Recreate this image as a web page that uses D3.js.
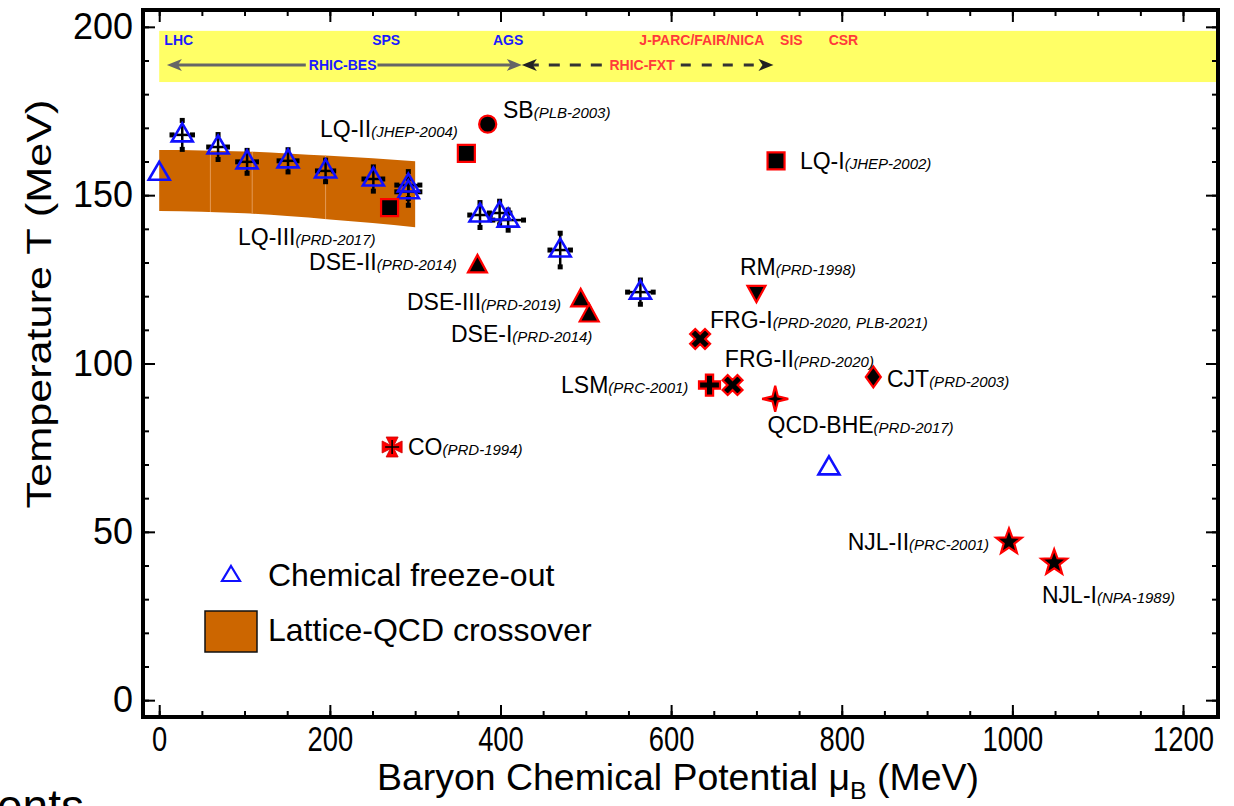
<!DOCTYPE html>
<html><head><meta charset="utf-8">
<script src="https://cdn.jsdelivr.net/npm/d3@7"></script>
<style>
body{margin:0;background:#fff;}
svg{display:block;font-family:"Liberation Sans",Arial,Helvetica,sans-serif;}
</style>
</head><body>
<svg id="c" width="1234" height="806"></svg>
<script>
// ---------------- data ----------------
const xTickValues = [0, 200, 400, 600, 800, 1000, 1200];
const xTickLabels = ["0", "200", "400", "600", "800", "1000", "1200"];
const yTickValues = [0, 50, 100, 150, 200];
const yTickLabels = ["0", "50", "100", "150", "200"];

// chemical freeze-out (muB, T, errors)
const freezeMu   = [0, 27, 69, 103, 151, 195, 251, 292, 292, 376, 399, 409, 470, 564, 785];
const freezeT    = [156.5, 167.9, 164.3, 159.9, 160.2, 157.2, 154.8, 153.0, 151.0, 144.1, 144.7, 142.6, 133.7, 121.2, 69.0];
const freezeErrT = [0, 4.3, 3.7, 3.4, 3.3, 3.2, 3.6, 4.0, 4.0, 3.7, 3.5, 3.0, 5.0, 3.6, 0];
const freezeErrMu= [0, 12, 11, 11, 10.5, 9.5, 11, 13.5, 13.5, 12, 12, 18, 12, 15, 0];

// lattice-QCD crossover band
const latticeMu    = [0, 50, 100, 150, 200, 250, 300];
const latticeUpper = [163.4, 163.3, 163.0, 162.4, 161.7, 161.0, 160.1];
const latticeLower = [145.3, 145.1, 144.6, 143.8, 142.8, 141.7, 140.5];
const latticeSeams = [60, 109, 195];

// model predictions of the critical end point
const modelNames = ["LQ-II", "SB", "LQ-I", "LQ-III", "DSE-II", "DSE-III", "DSE-I", "RM", "FRG-I", "FRG-II", "LSM", "CJT", "QCD-BHE", "CO", "NJL-II", "NJL-I"];
const modelRefs  = ["(JHEP-2004)", "(PLB-2003)", "(JHEP-2002)", "(PRD-2017)", "(PRD-2014)", "(PRD-2019)", "(PRD-2014)", "(PRD-1998)", "(PRD-2020, PLB-2021)", "(PRD-2020)", "(PRC-2001)", "(PRD-2003)", "(PRD-2017)", "(PRD-1994)", "(PRC-2001)", "(NPA-1989)"];
const modelMu    = [360, 385, 723, 270, 373, 494, 504, 700, 634, 672, 645, 837, 722, 273, 996, 1049];
const modelT     = [162.4, 171.1, 160.2, 146.3, 129.3, 119.2, 114.7, 120.7, 107.3, 93.6, 93.6, 96.0, 89.5, 75.2, 47.0, 40.8];
const modelShape = ["square", "circle", "square", "square", "triUp", "triUp", "triUp", "triDown", "xmark", "xmark", "plus", "diamond", "star4", "pattee", "star5", "star5"];
// label anchors (data coordinates, text start)
const labelMu    = [188.5, 403, 751, 92.3, 175.6, 290.4, 342, 680.7, 645.6, 663, 471, 853, 713, 291.6, 807, 1034.7];
const labelT     = [167.3, 172.9, 157.8, 135.2, 127.8, 115.9, 106.4, 126.3, 110.5, 98.96, 91.2, 93.0, 79.4, 72.8, 44.6, 28.9];

// facilities band
const facNames  = ["LHC", "SPS", "AGS", "J-PARC/FAIR/NICA", "SIS", "CSR"];
const facMu     = [6, 266, 409, 636, 741, 802];
const facAnchor = ["start", "middle", "middle", "middle", "middle", "middle"];
const facColor  = ["blue", "blue", "blue", "red", "red", "red"];
const bandT = [183.6, 198.8];
const bandMu = [0, 1260];
const besRange = [9, 425];
const fxtRange = [425, 720];
const besLabelMu = 215, fxtLabelMu = 566;

// ---------------- layout ----------------
const svg = d3.select("#c");
const x = d3.scaleLinear().domain([-19, 1241]).range([143, 1218]);
const y = d3.scaleLinear().domain([-5, 205]).range([717, 10]);
const X0 = x.range()[0], X1 = x.range()[1], Y0 = y.range()[0], Y1 = y.range()[1];
const BLUE = "#1010ff", RED = "#ff0000", FACRED = "#ff3a3a", FACBLUE = "#1a1aff";

svg.append("clipPath").attr("id", "clip").append("rect")
  .attr("x", X0).attr("y", Y1).attr("width", X1 - X0).attr("height", Y0 - Y1);
const plot = svg.append("g").attr("clip-path", "url(#clip)");

// yellow facilities band
plot.append("rect")
  .attr("x", x(bandMu[0])).attr("y", y(bandT[1]))
  .attr("width", x(bandMu[1]) - x(bandMu[0])).attr("height", y(bandT[0]) - y(bandT[1]))
  .attr("fill", "#ffff66");
const facY = y(194.6), arrY = y(188.7);
plot.selectAll("text.fac").data(facNames).join("text")
  .attr("x", (d, i) => x(facMu[i])).attr("y", facY)
  .attr("text-anchor", (d, i) => facAnchor[i])
  .attr("font-size", 14).attr("font-weight", "bold")
  .attr("fill", (d, i) => facColor[i] === "blue" ? FACBLUE : FACRED)
  .text(d => d);

function arrowHead(xTip, yy, dir, color) {
  const L = 15, H = 6;
  plot.append("path")
    .attr("d", `M${xTip},${yy} L${xTip - dir * L},${yy - H} L${xTip - dir * (L - 4)},${yy} L${xTip - dir * L},${yy + H} Z`)
    .attr("fill", color);
}
// RHIC-BES arrow
const besText = plot.append("text").attr("x", x(besLabelMu)).attr("y", arrY + 5)
  .attr("text-anchor", "middle").attr("font-size", 14).attr("font-weight", "bold")
  .attr("fill", FACBLUE).text("RHIC-BES");
const besW = besText.node().getComputedTextLength();
plot.append("line").attr("x1", x(besRange[0]) + 8).attr("x2", x(besLabelMu) - besW / 2 - 3)
  .attr("y1", arrY).attr("y2", arrY).attr("stroke", "#666").attr("stroke-width", 3);
plot.append("line").attr("x1", x(besLabelMu) + besW / 2 + 1).attr("x2", x(besRange[1]) - 8)
  .attr("y1", arrY).attr("y2", arrY).attr("stroke", "#666").attr("stroke-width", 3);
arrowHead(x(besRange[0]), arrY, -1, "#666");
arrowHead(x(besRange[1]), arrY, 1, "#666");
// RHIC-FXT arrow
const fxtText = plot.append("text").attr("x", x(fxtLabelMu)).attr("y", arrY + 5)
  .attr("text-anchor", "middle").attr("font-size", 14).attr("font-weight", "bold")
  .attr("fill", FACRED).text("RHIC-FXT");
const fxtW = fxtText.node().getComputedTextLength();
plot.append("line").attr("x1", x(fxtRange[0]) + 6).attr("x2", x(fxtLabelMu) - fxtW / 2 - 1)
  .attr("y1", arrY).attr("y2", arrY).attr("stroke", "#333").attr("stroke-width", 3)
  .attr("stroke-dasharray", "11,10");
plot.append("line").attr("x1", x(fxtLabelMu) + fxtW / 2 + 6).attr("x2", x(fxtRange[1]) - 10)
  .attr("y1", arrY).attr("y2", arrY).attr("stroke", "#333").attr("stroke-width", 3)
  .attr("stroke-dasharray", "10,11");
arrowHead(x(fxtRange[0]), arrY, -1, "#222");
arrowHead(x(fxtRange[1]), arrY, 1, "#222");

// lattice band
const area = d3.area().x((d, i) => x(latticeMu[i])).y0((d, i) => y(latticeLower[i])).y1((d, i) => y(latticeUpper[i])).curve(d3.curveMonotoneX);
plot.append("path").datum(latticeMu).attr("d", area).attr("fill", "#cc6600");
const upI = d3.scaleLinear().domain(latticeMu).range(latticeUpper);
const loI = d3.scaleLinear().domain(latticeMu).range(latticeLower);
plot.selectAll("line.seam").data(latticeSeams).join("line")
  .attr("x1", d => x(d)).attr("x2", d => x(d))
  .attr("y1", d => y(upI(d))).attr("y2", d => y(loI(d)))
  .attr("stroke", "#e39a55").attr("stroke-width", 1);

// freeze-out error bars
const fz = freezeMu.map((m, i) => ({ m, t: freezeT[i], et: freezeErrT[i], em: freezeErrMu[i] }));
const eb = plot.append("g");
fz.filter(d => d.et > 0).forEach(d => {
  const cx = x(d.m), cy = y(d.t);
  const x1 = x(d.m - d.em), x2 = x(d.m + d.em), y1 = y(d.t + d.et), y2 = y(d.t - d.et);
  eb.append("line").attr("x1", x1).attr("x2", x2).attr("y1", cy).attr("y2", cy).attr("stroke", "#000").attr("stroke-width", 2.5);
  eb.append("line").attr("x1", cx).attr("x2", cx).attr("y1", y1).attr("y2", y2).attr("stroke", "#000").attr("stroke-width", 2.5);
  [[x1, cy], [x2, cy], [cx, y1], [cx, y2]].forEach(p => eb.append("rect").attr("x", p[0] - 2.5).attr("y", p[1] - 2.5).attr("width", 5).attr("height", 5).attr("fill", "#000"));
});
// freeze-out triangles
const triOpen = "M0,-11.5 L10.5,6.5 L-10.5,6.5 Z";
plot.selectAll("path.fz").data(fz).join("path")
  .attr("d", triOpen).attr("transform", d => `translate(${x(d.m)},${y(d.t)})`)
  .attr("fill", "none").attr("stroke", BLUE).attr("stroke-width", 2.6).attr("stroke-linejoin", "miter");

// model markers
function starPath(n, R, r) {
  let p = "";
  for (let k = 0; k < 2 * n; k++) {
    const a = -Math.PI / 2 + k * Math.PI / n, rr = k % 2 ? r : R;
    p += (k ? "L" : "M") + (rr * Math.cos(a)).toFixed(2) + "," + (rr * Math.sin(a)).toFixed(2);
  }
  return p + "Z";
}
function plusPath(L, w) {
  return `M${-w},${-L} L${w},${-L} L${w},${-w} L${L},${-w} L${L},${w} L${w},${w} L${w},${L} L${-w},${L} L${-w},${w} L${-L},${w} L${-L},${-w} L${-w},${-w} Z`;
}
const shapes = {
  square: "M-8.5,-8.5 L8.5,-8.5 L8.5,8.5 L-8.5,8.5 Z",
  circle: d3.symbol(d3.symbolCircle, 230)(),
  triUp: "M0,-10 L9.5,7.5 L-9.5,7.5 Z",
  triDown: "M0,8.5 L9,-8 L-9,-8 Z",
  xmark: plusPath(10.5, 3.6),
  plus: plusPath(10.5, 3.6),
  diamond: "M0,-10.5 L7.5,0 L0,10.5 L-7.5,0 Z",
  star4: "M0,-13 L2.6,-2.6 L13,0 L2.6,2.6 L0,13 L-2.6,2.6 L-13,0 L-2.6,-2.6 Z",
  pattee: "M-2,-2 L-6,-10 L6,-10 L2,-2 L10,-6 L10,6 L2,2 L6,10 L-6,10 L-2,2 L-10,6 L-10,-6 Z",
  star5: starPath(5, 13.5, 5.6)
};
const models = modelNames.map((n, i) => ({ n, ref: modelRefs[i], m: modelMu[i], t: modelT[i], s: modelShape[i], lm: labelMu[i], lt: labelT[i] }));
const mk = plot.selectAll("g.mk").data(models).join("g")
  .attr("transform", d => `translate(${x(d.m)},${y(d.t)})` + (d.s === "xmark" ? " rotate(45)" : ""));
mk.append("path").attr("d", d => shapes[d.s])
  .attr("fill", d => d.s === "pattee" ? RED : "#000")
  .attr("stroke", d => d.s === "pattee" ? "#c00" : RED)
  .attr("stroke-width", d => d.s === "pattee" ? 0.8 : 2.2)
  .attr("stroke-linejoin", "miter");
mk.filter(d => d.s === "pattee").append("path")
  .attr("d", "M0,-7 L0,7 M-7,0 L7,0").attr("stroke", "#000").attr("stroke-width", 1.6);

// model labels
const lab = plot.selectAll("text.lab").data(models).join("text")
  .attr("x", d => x(d.lm)).attr("y", d => y(d.lt)).attr("fill", "#000");
lab.append("tspan").attr("font-size", 23).text(d => d.n);
lab.append("tspan").attr("font-size", 15).attr("font-style", "italic").text(d => d.ref);

// ---------------- axes ----------------
const axG = svg.append("g");
function styleAxis(g) { g.select(".domain").remove(); g.selectAll(".tick line").attr("stroke", "#000").attr("stroke-width", 2); }
const xMinor = d3.range(0, 1201, 50), yMinor = d3.range(0, 201, 10);
axG.append("g").attr("transform", `translate(0,${Y0})`).call(d3.axisBottom(x).tickValues(xMinor).tickSize(-6).tickFormat("")).call(styleAxis);
axG.append("g").attr("transform", `translate(0,${Y1})`).call(d3.axisTop(x).tickValues(xMinor).tickSize(-6).tickFormat("")).call(styleAxis);
axG.append("g").attr("transform", `translate(${X0},0)`).call(d3.axisLeft(y).tickValues(yMinor).tickSize(-6).tickFormat("")).call(styleAxis);
axG.append("g").attr("transform", `translate(${X1},0)`).call(d3.axisRight(y).tickValues(yMinor).tickSize(-6).tickFormat("")).call(styleAxis);

const gx = axG.append("g").attr("transform", `translate(0,${Y0})`)
  .call(d3.axisBottom(x).tickValues(xTickValues).tickSize(-12).tickPadding(8).tickFormat((d, i) => xTickLabels[i])).call(styleAxis);
gx.selectAll("text").attr("font-size", 36).attr("fill", "#000").attr("transform", "scale(0.76,1)");
gx.attr("font-family", null);
axG.append("g").attr("transform", `translate(0,${Y1})`).call(d3.axisTop(x).tickValues(xTickValues).tickSize(-12).tickFormat("")).call(styleAxis);
const gy = axG.append("g").attr("transform", `translate(${X0},0)`)
  .call(d3.axisLeft(y).tickValues(yTickValues).tickSize(-12).tickPadding(10).tickFormat((d, i) => yTickLabels[i])).call(styleAxis);
gy.selectAll("text").attr("font-size", 36).attr("fill", "#000");
gy.attr("font-family", null);
axG.append("g").attr("transform", `translate(${X1},0)`).call(d3.axisRight(y).tickValues(yTickValues).tickSize(-12).tickFormat("")).call(styleAxis);

// frame
svg.append("rect").attr("x", X0).attr("y", Y1).attr("width", X1 - X0).attr("height", Y0 - Y1)
  .attr("fill", "none").attr("stroke", "#000").attr("stroke-width", 4);

// axis titles
const xt = svg.append("text").attr("text-anchor", "middle")
  .attr("transform", `translate(678,790) scale(1.04,1)`).attr("font-size", 36).attr("fill", "#000");
xt.append("tspan").text("Baryon Chemical Potential \u03bc");
xt.append("tspan").attr("font-size", 24).attr("dy", 9).text("B");
xt.append("tspan").attr("dy", -9).text(" (MeV)");
svg.append("text").attr("text-anchor", "middle")
  .attr("transform", `translate(51,304) rotate(-90) scale(1.2,1)`).attr("font-size", 36).attr("fill", "#000")
  .text("Temperature T (MeV)");

// legend
svg.append("path").attr("d", "M0,-9 L9,6 L-9,6 Z").attr("transform", "translate(231,575)")
  .attr("fill", "none").attr("stroke", BLUE).attr("stroke-width", 2.2);
svg.append("text").attr("x", 268).attr("y", 586).attr("font-size", 32).attr("fill", "#000").text("Chemical freeze-out");
svg.append("rect").attr("x", 205).attr("y", 611).attr("width", 52).attr("height", 41)
  .attr("fill", "#cc6600").attr("stroke", "#111").attr("stroke-width", 1.5);
svg.append("text").attr("x", 268).attr("y", 641).attr("font-size", 32).attr("fill", "#000").text("Lattice-QCD crossover");

// cut-off text at page bottom (fragment of the page text below the figure)
svg.append("text").attr("x", -3).attr("y", 822).attr("font-size", 46).attr("fill", "#000").text("ents");
</script>
</body></html>
